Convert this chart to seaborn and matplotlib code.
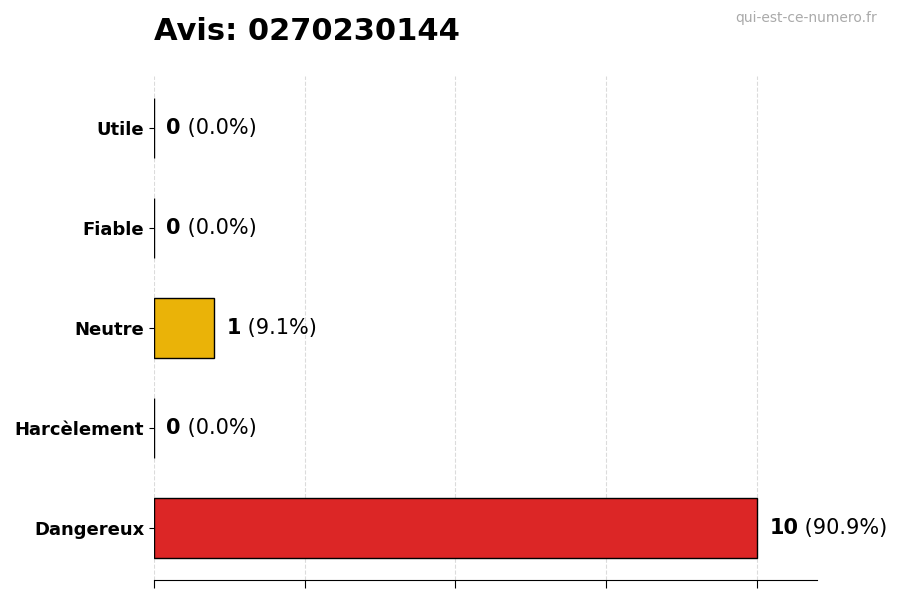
import numpy as np
import pandas as pd
import seaborn as sns
import matplotlib.pyplot as plt

# données du graphique
categories = ['Utile', 'Fiable', 'Neutre', 'Harcèlement', 'Dangereux']
counts = [0, 0, 1, 0, 10]
colors = ['#22C55E', '#3B82F6', '#EAB308', '#A855F7', '#DC2626']
phone = '0270230144'
site = 'qui-est-ce-numero.fr'

total = sum(counts)
df = pd.DataFrame({'Catégorie': categories, 'Nombre': counts})

sns.set_style('white', rc={'text.color': 'black', 'axes.labelcolor': 'black',
                           'xtick.color': 'black', 'ytick.color': 'black',
                           'axes.edgecolor': 'black'})
plt.rcParams['font.family'] = ['DejaVu Sans']

fig, ax = plt.subplots(figsize=(9, 6), dpi=100)
fig.subplots_adjust(left=0.171, right=0.908, top=0.873, bottom=0.033)

sns.barplot(data=df, y='Catégorie', x='Nombre', hue='Catégorie', palette=colors,
            orient='h', width=0.6, edgecolor='black', linewidth=1, legend=False,
            saturation=1, ax=ax)

# étiquettes : nombre en gras + pourcentage
for i, (c, v) in enumerate(zip(categories, counts)):
    pct = 100 * v / total if total else 0
    t1 = ax.annotate(str(v), xy=(v, i), xytext=(9, 0), textcoords='offset points',
                     va='center', ha='left', fontsize=15, fontweight='bold')
    ax.annotate(f' ({pct:.1f}%)', xy=(1, 0.5), xycoords=t1, va='center', ha='left',
                fontsize=15)

ax.set_xlim(0, 11)
ax.set_ylim(len(categories) - 0.48, -0.52)
ax.set_xticks([0, 2.5, 5, 7.5, 10])
ax.set_xticklabels([])
ax.set_xlabel('')
ax.set_ylabel('')
ax.grid(axis='x', linestyle='--', color='#cccccc', alpha=0.7)
ax.set_axisbelow(True)
ax.tick_params(axis='y', left=True, length=3.5, labelsize=13)
ax.tick_params(axis='x', bottom=True, length=6)
for lab in ax.get_yticklabels():
    lab.set_fontweight('bold')

sns.despine(ax=ax, left=True)

ax.set_title(f'Avis: {phone}', loc='left', fontsize=22, fontweight='bold', pad=26)
fig.text(0.975, 0.982, site, ha='right', va='top', fontsize=10, color='#aaaaaa')

plt.savefig('out.png', dpi=100)
